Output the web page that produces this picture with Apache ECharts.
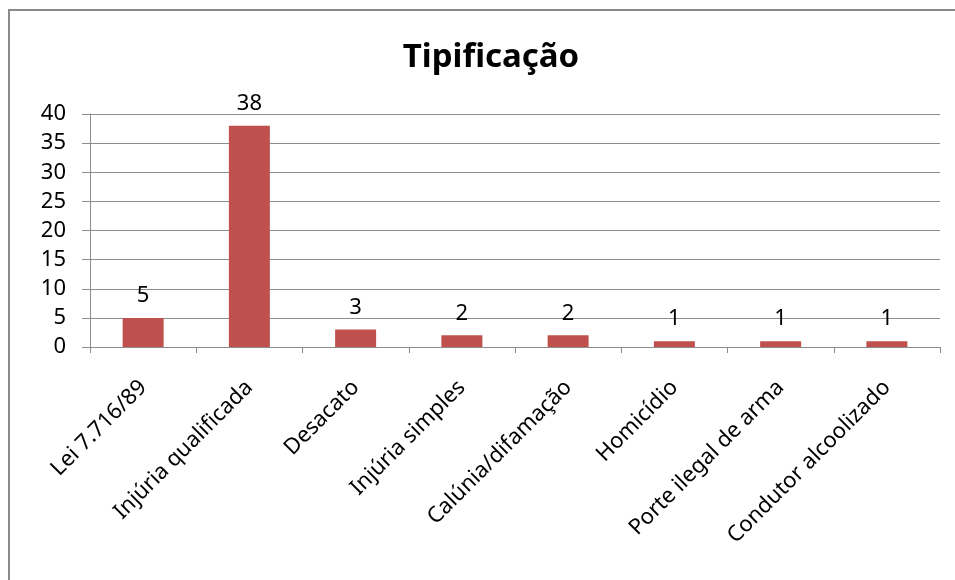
<!DOCTYPE html>
<html>
<head>
<meta charset="utf-8">
<script src="https://cdn.jsdelivr.net/npm/echarts@6/dist/echarts.min.js"></script>
<style>
  html, body { margin: 0; padding: 0; background: #fff; }
  #chart { width: 955px; height: 580px; }
</style>
</head>
<body>
<div id="chart"></div>
<script>
const categories = ['Lei 7.716/89', 'Injúria qualificada', 'Desacato', 'Injúria simples',
  'Calúnia/difamação', 'Homicídio', 'Porte ilegal de arma', 'Condutor alcoolizado'];
const counts = [5, 38, 3, 2, 2, 1, 1, 1];
const yTicks = [0, 5, 10, 15, 20, 25, 30, 35, 40];

let chartInstance = echarts.init(document.getElementById('chart'));
const font = '"Noto Sans", "Open Sans", sans-serif';
const option = {
  backgroundColor: '#fff',
  animation: false,
  title: {
    text: 'Tipificação',
    left: 486,
    top: 36,
    textAlign: 'center',
    textStyle: { fontFamily: font, fontSize: 33, fontWeight: 'bold', color: '#000' }
  },
  graphic: [
    {
      type: 'rect',
      shape: { x: 9, y: 10, width: 960, height: 580 },
      style: { fill: 'none', stroke: '#8a8a8a', lineWidth: 2 }
    }
  ],
  grid: { left: 90, right: 15, top: 114, bottom: 233 },
  xAxis: {
    type: 'category',
    data: categories,
    axisLine: { lineStyle: { color: '#8c8c8c', width: 1 } },
    axisTick: { show: true, length: 6, lineStyle: { color: '#8c8c8c' } },
    axisLabel: {
      rotate: 45,
      interval: 0,
      margin: 37,
      fontFamily: font,
      fontSize: 22,
      color: '#000'
    }
  },
  yAxis: {
    type: 'value',
    min: yTicks[0],
    max: yTicks[yTicks.length - 1],
    interval: 5,
    axisLine: { show: true, lineStyle: { color: '#8c8c8c' } },
    axisTick: { show: true, length: 8, lineStyle: { color: '#8c8c8c' } },
    splitLine: { lineStyle: { color: '#8c8c8c', width: 1 } },
    axisLabel: { fontFamily: font, fontSize: 22, color: '#000', margin: 24 }
  },
  series: [
    {
      type: 'bar',
      data: counts,
      barWidth: 41,
      itemStyle: { color: '#C0504D' },
      label: {
        show: true,
        position: 'top',
        distance: 11,
        fontFamily: font,
        fontSize: 22,
        color: '#000'
      }
    }
  ]
};
chartInstance.setOption(option);
</script>
</body>
</html>
